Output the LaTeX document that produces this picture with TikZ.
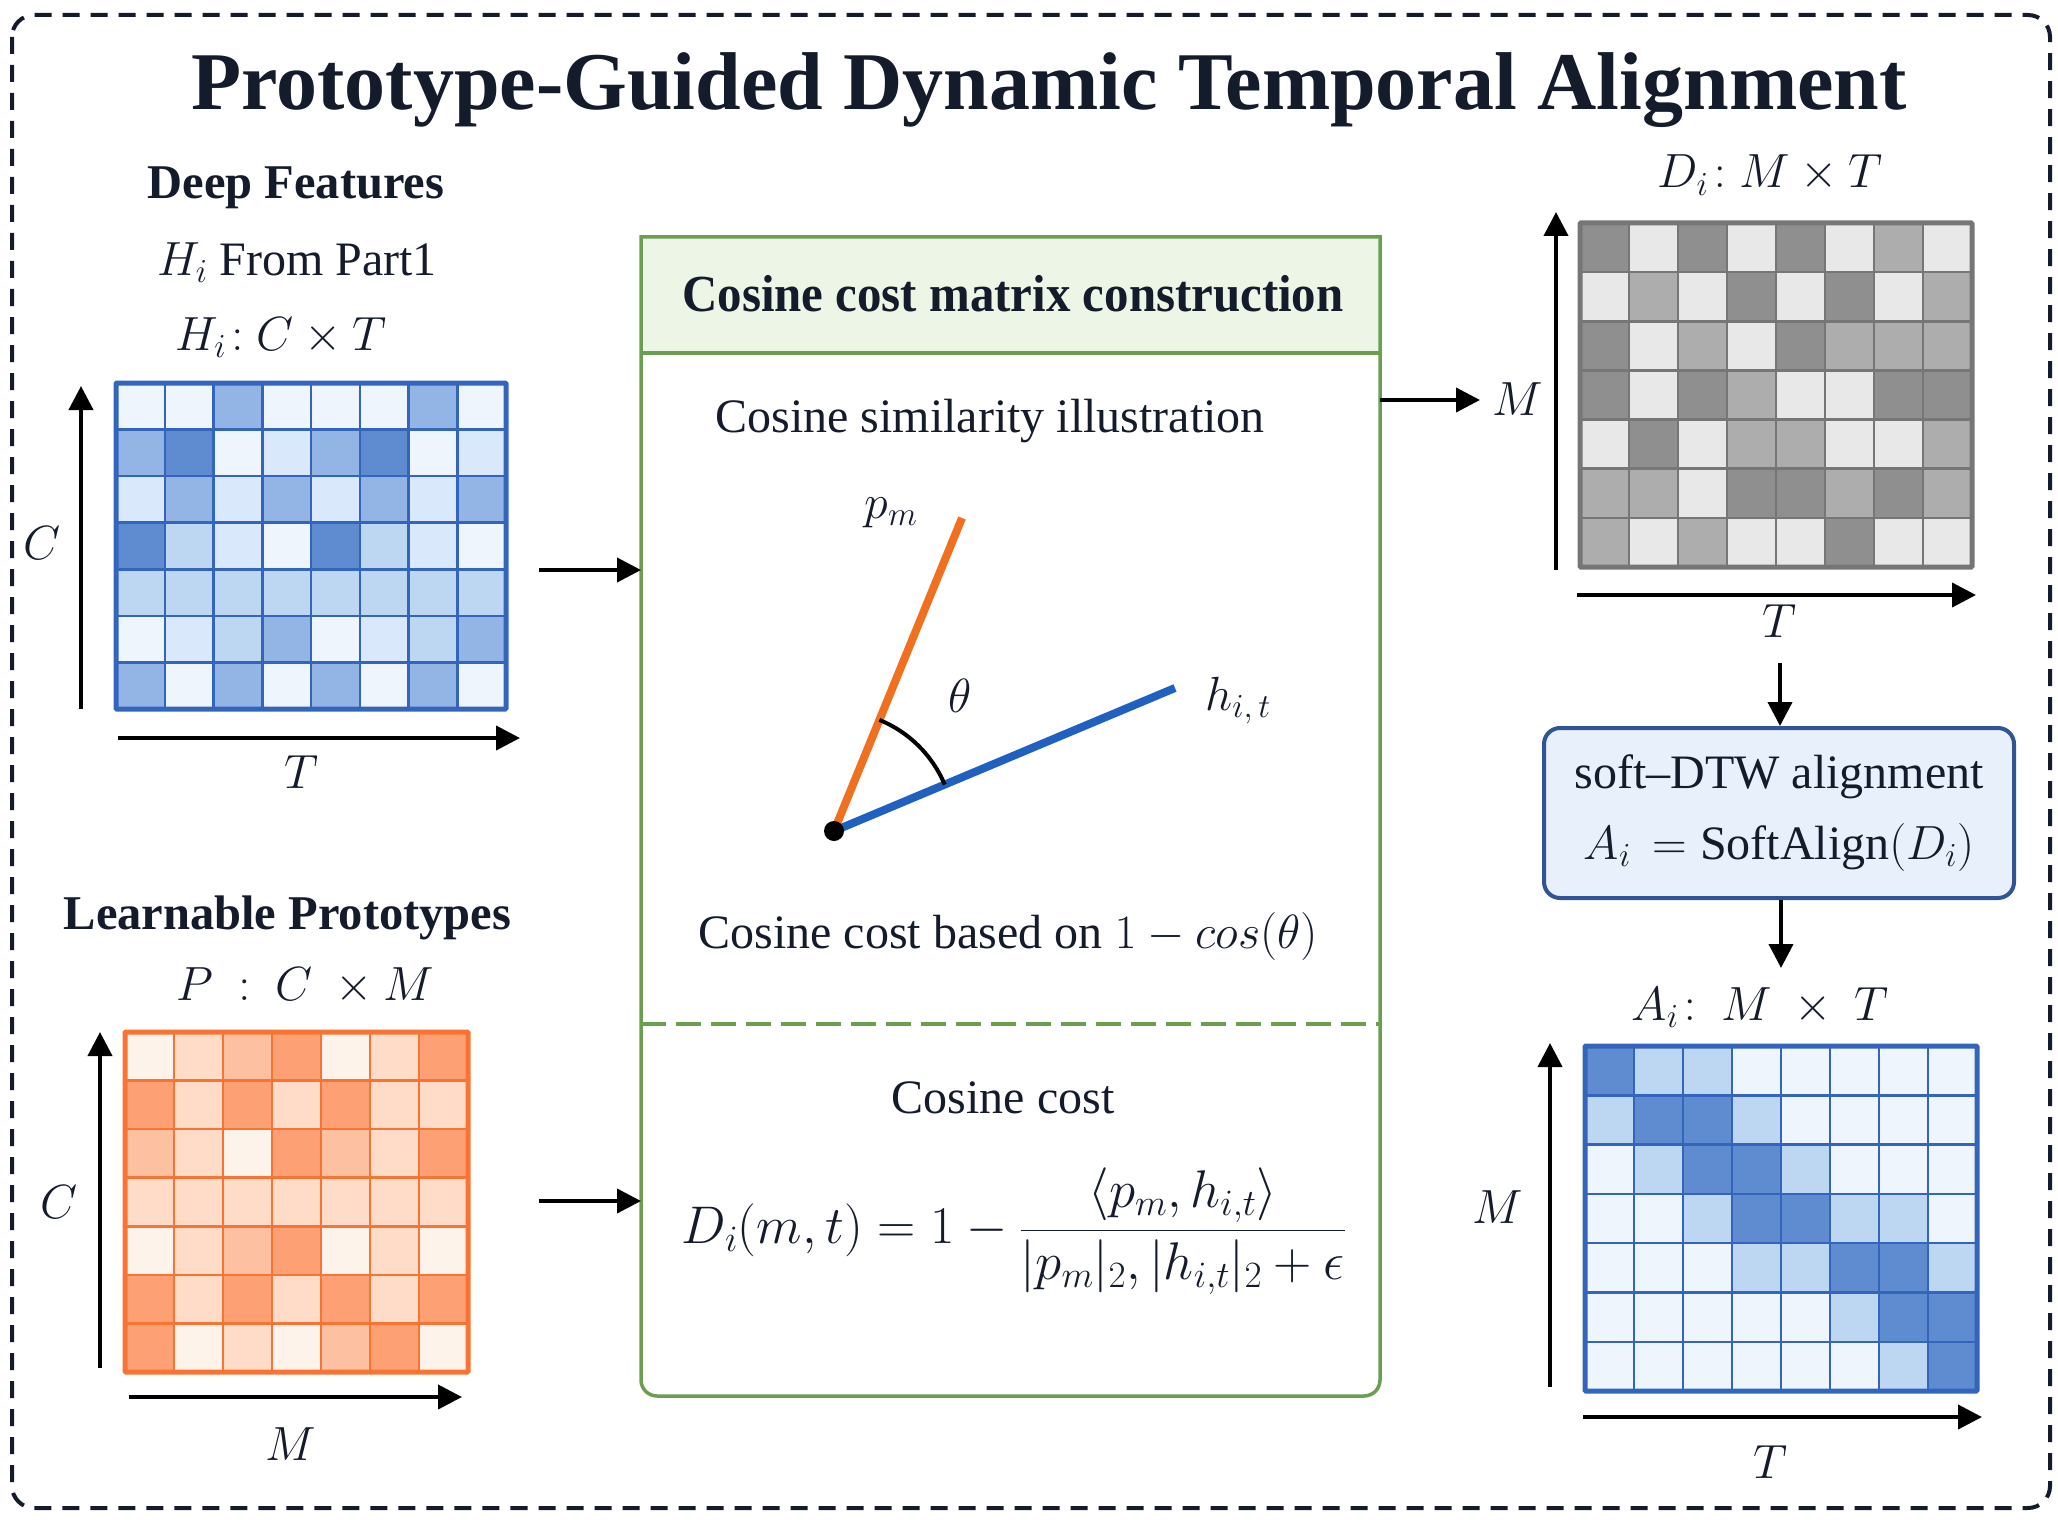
\documentclass[tikz,border=0pt]{standalone}
\usepackage{fix-cm}
\usepackage{fontspec}
\setmainfont{Liberation Serif}
\newfontfamily\condfont[FakeStretch=0.94]{Liberation Serif}
\usetikzlibrary{arrows.meta,calc}

\definecolor{ink}{HTML}{141B2B}
\definecolor{b0}{HTML}{EEF5FD}
\definecolor{b1}{HTML}{DAE8FB}
\definecolor{b2}{HTML}{BDD7F2}
\definecolor{b3}{HTML}{92B5E6}
\definecolor{b4}{HTML}{5F8CD1}
\definecolor{bline}{HTML}{3465BC}
\definecolor{o0}{HTML}{FEF3EA}
\definecolor{o1}{HTML}{FEDCC8}
\definecolor{o2}{HTML}{FDC0A0}
\definecolor{o3}{HTML}{FDA073}
\definecolor{oline}{HTML}{F97434}
\definecolor{g0}{HTML}{E8E8E8}
\definecolor{g1}{HTML}{ADADAD}
\definecolor{g2}{HTML}{8F8F8F}
\definecolor{gline}{HTML}{767676}
\definecolor{grn}{HTML}{6A9F50}
\definecolor{grnfill}{HTML}{EDF5E6}
\definecolor{dtwfill}{HTML}{E8F0FB}
\definecolor{dtwline}{HTML}{2F5597}
\definecolor{vecor}{HTML}{F07020}
\definecolor{vecbl}{HTML}{2060C0}

% #1 x0, #2 y0, #3 cell w, #4 cell h, #5 colour prefix, #6 line colour, #7 rows
\newcommand{\drawcellgrid}[7]{%
  \foreach \rowdata [count=\ri from 0] in {#7} {
    \foreach \v [count=\ci from 0] in \rowdata {
      \filldraw[fill=#5\v, draw=#6, line width=2.5pt]
        (#1+\ci*#3, #2+\ri*#4) rectangle ++(#3,#4);
    }
  }%
}

\begin{document}
\begin{tikzpicture}[x=1pt,y=-1pt,
  lbl/.style={font=\fontsize{48}{56}\selectfont, text=ink, inner sep=0pt, anchor=base},
  hd/.style={font=\fontsize{48.5}{56}\selectfont\bfseries, text=ink, inner sep=0pt, anchor=base},
  arr/.style={line width=4pt, -{Triangle[length=24pt,width=24pt]}},
  outline/.style={line width=5pt, rounded corners=1pt}
]
\useasboundingbox (0,0) rectangle (2058,1522);

% outer dashed frame
\draw[ink, line width=4pt, dash pattern=on 17pt off 11pt, rounded corners=22pt]
  (12,15) rectangle (2050,1508);

% title
\node[font=\fontsize{82}{90}\selectfont\bfseries, text=ink, inner sep=0pt, anchor=base]
  (title) at (1049,110) {Prototype-Guided Dynamic Temporal Alignment};

% ---------- Deep features ----------
\node[hd] (deep) at (296,199) {Deep Features};
\node[lbl] (hfrom) at (297,275.5) {$H_i$ From Part1};
\node[lbl] (hdim) at (281,350) {$H_i\!: C\times T$};
\drawcellgrid{116}{383}{48.75}{46.57}{b}{bline}{
 {0,0,3,0,0,0,3,0},
 {3,4,0,1,3,4,0,1},
 {1,3,1,3,1,3,1,3},
 {4,2,1,0,4,2,1,0},
 {2,2,2,2,2,2,2,2},
 {0,1,2,3,0,1,2,3},
 {3,0,3,0,3,0,3,0}}
\draw[bline, outline] (116,383) rectangle (506,709);
\coordinate (g1a) at (81,709); \coordinate (g1b) at (81,386);
\coordinate (g1c) at (118,738); \coordinate (g1d) at (520,738);
\draw[arr] (g1a) -- (g1b);
\draw[arr] (g1c) -- (g1d);
\node[lbl] (c1) at (42,559) {$C$};
\node[lbl] (t1) at (302,788) {$T$};

% ---------- Learnable prototypes ----------
\node[hd] (learn) at (287.5,929) {Learnable Prototypes};
\node[lbl] (pdim) at (305,1000) {$P\ :\ C\ \times M$};
\drawcellgrid{125}{1032}{49}{48.57}{o}{oline}{
 {0,1,2,3,0,1,3},
 {3,1,3,1,3,1,1},
 {2,1,0,3,2,1,3},
 {1,1,1,1,1,1,1},
 {0,1,2,3,0,1,0},
 {3,1,3,1,3,1,3},
 {3,0,1,0,2,3,0}}
\draw[oline, outline] (125,1032) rectangle (468,1372);
\coordinate (g2a) at (100,1368); \coordinate (g2b) at (100,1032);
\coordinate (g2c) at (129,1397); \coordinate (g2d) at (462,1397);
\draw[arr] (g2a) -- (g2b);
\draw[arr] (g2c) -- (g2d);
\node[lbl] (c2) at (59,1218) {$C$};
\node[lbl] (m2) at (291,1460) {$M$};

% ---------- central box ----------
\node[minimum width=739pt, minimum height=1159pt, inner sep=0pt, outer sep=0pt,
      anchor=north west] (ccm) at (641,237) {};
\fill[grnfill] (641,237) rectangle (1380,353);
\draw[grn, line width=3.5pt] (641,800) -- (641,237) -- (1380,237) -- (1380,800)
  [rounded corners=16pt] -- (1380,1396) -- (641,1396) -- cycle;
\draw[grn, line width=3.5pt] (641,353) -- (1380,353);
\draw[grn, line width=3.5pt, dash pattern=on 25pt off 10pt] (641,1024) -- (1380,1024);

\node[font=\fontsize{52}{60}\selectfont\condfont\bfseries, text=ink, inner sep=0pt, anchor=base]
  (hdr) at (1013,312) {Cosine cost matrix construction};
\node[lbl] (csi) at (990,432) {Cosine similarity illustration};

% vectors
\coordinate (o) at (834,831);
\coordinate (pend) at (962,518);
\coordinate (hend) at (1175,688);
\draw[vecor, line width=8pt] (o) -- (pend);
\draw[vecbl, line width=8pt] (o) -- (hend);
\draw[black, line width=4pt] (944.7,784.6) arc[start angle=22.75, end angle=67.8, radius=120pt];
\fill[black] (o) circle[radius=10pt];
\node[lbl] (pm) at (891,518) {$p_m$};
\node[lbl] (th) at (960,712) {$\theta$};
\node[lbl] (hit) at (1238,710) {$h_{i,\,t}$};

\node[lbl] (ccb) at (1008,948) {Cosine cost based on $1 - cos(\theta)$};
\node[lbl] (cc) at (1003,1113) {Cosine cost};
\node[font=\fontsize{53}{60}\selectfont, text=ink, inner sep=0pt] (form) at (1014,1231)
  {$\displaystyle D_i(m,t) = 1 - \frac{\langle p_m, h_{i,t}\rangle}{|p_m|_2, |h_{i,t}|_2 + \epsilon}$};

% arrows into / out of central box
\coordinate (in1) at (539,570);
\coordinate (in2) at (539,1201);
\coordinate (out1) at (1480,400);
\draw[arr] (in1) -- (in1 -| ccm.west);
\draw[arr] (in2) -- (in2 -| ccm.west);
\draw[arr] (out1 -| ccm.east) -- (out1);

% ---------- cost matrix D ----------
\node[lbl] (ddim) at (1770,188) {$D_i\!: M\times T$};
\drawcellgrid{1580}{223}{49}{49.14}{g}{gline}{
 {2,0,2,0,2,0,1,0},
 {0,1,0,2,0,2,0,1},
 {2,0,1,0,2,1,1,1},
 {2,0,2,1,0,0,2,2},
 {0,2,0,1,1,0,0,1},
 {1,1,0,2,2,1,2,1},
 {1,0,1,0,0,2,0,0}}
\draw[gline, outline] (1580,223) rectangle (1972,567);
\coordinate (g3a) at (1556,570); \coordinate (g3b) at (1556,212);
\coordinate (g3c) at (1577,595); \coordinate (g3d) at (1976,595);
\draw[arr] (g3a) -- (g3b);
\draw[arr] (g3c) -- (g3d);
\node[lbl] (m3) at (1518,415) {$M$};
\node[lbl] (t3) at (1780,637) {$T$};

% ---------- soft-DTW ----------
\node[draw=dtwline, fill=dtwfill, line width=4pt, rounded corners=16pt,
      minimum width=470pt, minimum height=170pt, align=center, text=ink,
      font=\fontsize{48}{71}\selectfont] (dtw) at (1779,813)
  {soft–DTW alignment\\ $A_i\, = \mathrm{SoftAlign}(D_i)$};
\coordinate (dtwin) at (1780,663);
\coordinate (dtwout) at (1781,968);
\draw[arr] (dtwin) -- (dtwin |- dtw.north);
\draw[arr] (dtwout |- dtw.south) -- (dtwout);

% ---------- alignment matrix A ----------
\node[lbl] (adim) at (1760,1020) {$A_i\!:\ M\ \times\ T$};
\drawcellgrid{1585}{1046}{49}{49.3}{b}{bline}{
 {4,2,2,0,0,0,0,0},
 {2,4,4,2,0,0,0,0},
 {0,2,4,4,2,0,0,0},
 {0,0,2,4,4,2,2,0},
 {0,0,0,2,2,4,4,2},
 {0,0,0,0,0,2,4,4},
 {0,0,0,0,0,0,2,4}}
\draw[bline, outline] (1585,1046) rectangle (1977,1391);
\coordinate (g4a) at (1550,1387); \coordinate (g4b) at (1550,1043);
\coordinate (g4c) at (1583,1417); \coordinate (g4d) at (1982,1417);
\draw[arr] (g4a) -- (g4b);
\draw[arr] (g4c) -- (g4d);
\node[lbl] (m4) at (1498,1223) {$M$};
\node[lbl] (t4) at (1771,1478) {$T$};
\end{tikzpicture}
\end{document}
